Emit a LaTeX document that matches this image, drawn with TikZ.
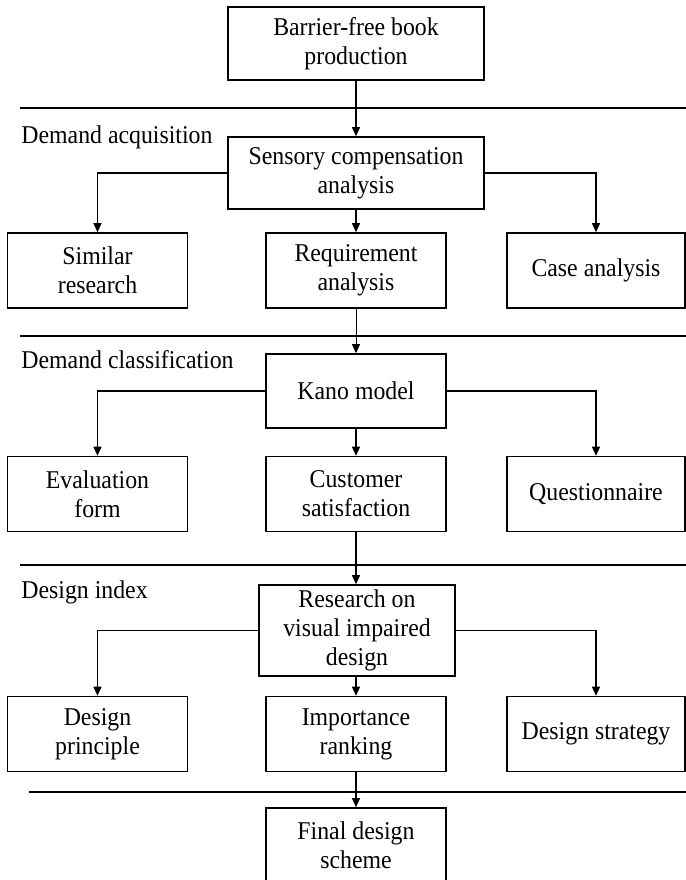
\documentclass[tikz,border=0pt]{standalone}
\usepackage{fontspec}
\setmainfont{Liberation Serif}[FakeStretch=0.93]
\usetikzlibrary{arrows.meta}

\begin{document}
\begin{tikzpicture}[
    x=0.5pt, y=-0.5pt,
    >={Triangle[length=4.5pt, width=4pt]},
    every node/.style={font=\fontsize{12.8}{14.5}\selectfont},
    block/.style={draw, line width=0.8pt, align=center, inner sep=0pt,
        minimum width=90pt, minimum height=37.5pt},
    wide/.style={block, minimum width=128pt, minimum height=36.5pt},
    link/.style={->, line width=0.7pt},
    divider/.style={line width=1.4pt},
    stage/.style={anchor=base west, inner sep=0pt},
]

    \useasboundingbox (0,0) rectangle (686,880);
    \clip (0,0) rectangle (686,880);

    % stage dividers
    \draw[divider] (20,108) -- (686,108);
    \draw[divider] (20,336) -- (686,336);
    \draw[divider] (20,565) -- (686,565);
    \draw[divider] (29,792) -- (686,792);

    \node[stage] (acq) at (21,143) {Demand acquisition};
    \node[stage] (cls) at (21,368) {Demand classification};
    \node[stage] (idx) at (21,598) {Design index};

    % =============================================================
    % Boxes
    % =============================================================
    \node[wide] (book) at (356,43.5) {Barrier-free book\\production};

    \node[wide, minimum height=36pt] (sensory) at (356,173)
        {Sensory compensation\\analysis};
    \node[block] (similar) at (97.5,270.5) {Similar\\research};
    \node[block] (require) at (356,270.5) {Requirement\\analysis};
    \node[block, minimum width=89pt] (case) at (596,270.5) {Case analysis};

    \node[block, minimum height=37pt] (kano) at (356,391) {Kano model};
    \node[block] (evalform) at (97.5,494) {Evaluation\\form};
    \node[block] (satisf) at (356,494) {Customer\\satisfaction};
    \node[block, minimum width=89pt] (quest) at (596,494) {Questionnaire};

    \node[block, minimum width=98pt, minimum height=45.5pt] (research)
        at (357,630.5) {Research on\\visual impaired\\design};
    \node[block] (principle) at (97.5,734) {Design\\principle};
    \node[block] (ranking) at (356,734) {Importance\\ranking};
    \node[block, minimum width=89pt] (strategy) at (596,734) {Design strategy};

    \node[block] (final) at (356,845.5) {Final design\\scheme};

    % =============================================================
    % Connectors
    % =============================================================
    \draw[link] (book) -- (sensory);
    \draw[link] (sensory.west) -| (similar.north);
    \draw[link] (sensory) -- (require);
    \draw[link] (sensory.east) -| (case.north);

    \draw[link, line width=0.4pt] (require) -- (kano);
    \draw[link] (kano.west) -| (evalform.north);
    \draw[link] (kano) -- (satisf);
    \draw[link] (kano.east) -| (quest.north);

    \draw[link] (satisf) -- (satisf |- research.north);
    \draw[link] (research.west) -| (principle.north);
    \draw[link] (ranking |- research.south) -- (ranking);
    \draw[link] (research.east) -| (strategy.north);

    \draw[link] (ranking) -- (final);

\end{tikzpicture}
\end{document}
